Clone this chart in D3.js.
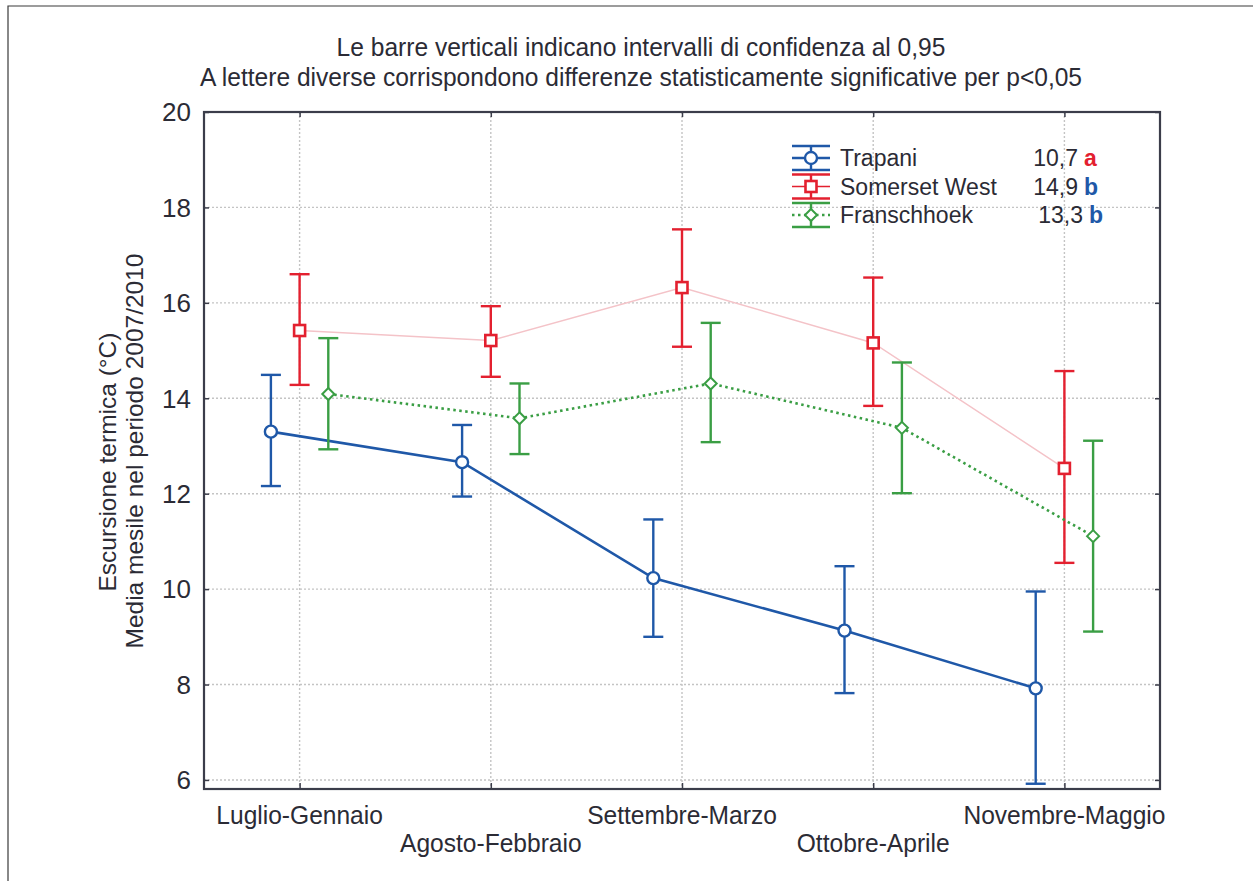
<!DOCTYPE html>
<html>
<head>
<meta charset="utf-8">
<script src="https://cdn.jsdelivr.net/npm/d3@7"></script>
<style>
  html, body { margin: 0; padding: 0; background: #fff; }
  svg { display: block; }
  text { font-family: "Liberation Sans", Arial, sans-serif; fill: #2b2b35; }
</style>
</head>
<body>
<svg id="chart" width="1253" height="881"></svg>
<script>
// Monthly thermal excursion, three sites, 95% confidence intervals
const categories = ["Luglio-Gennaio", "Agosto-Febbraio", "Settembre-Marzo", "Ottobre-Aprile", "Novembre-Maggio"];
const seriesNames = ["Trapani", "Somerset West", "Franschhoek"];

const trapaniMean = [13.30, 12.66, 10.23, 9.13, 7.92];
const trapaniLow  = [12.16, 11.94, 9.00, 7.82, 5.92];
const trapaniHigh = [14.49, 13.44, 11.46, 10.48, 9.95];

const somersetMean = [15.42, 15.21, 16.32, 15.16, 12.53];
const somersetLow  = [14.28, 14.45, 15.08, 13.84, 10.55];
const somersetHigh = [16.60, 15.93, 17.54, 16.53, 14.57];

const franschMean = [14.09, 13.58, 14.31, 13.38, 11.11];
const franschLow  = [12.93, 12.83, 13.08, 12.01, 9.11];
const franschHigh = [15.26, 14.31, 15.58, 14.75, 13.11];

const overallMeans = ["10,7", "14,9", "13,3"];
const groupLetters = ["a", "b", "b"];

const yTicks = [6, 8, 10, 12, 14, 16, 18, 20];

const titleLines = [
  "Le barre verticali indicano intervalli di confidenza al 0,95",
  "A lettere diverse corrispondono differenze statisticamente significative per p<0,05"
];
const yTitleLines = ["Escursione termica (°C)", "Media mesile nel periodo 2007/2010"];

// Styling per series
const styles = {
  "Trapani":       { color: "#1f58a8", line: "#1f58a8", lineWidth: 2.6, dash: null,  marker: "circle" },
  "Somerset West": { color: "#e3202f", line: "#f4c3c8", lineWidth: 1.5, dash: null,  marker: "square" },
  "Franschhoek":   { color: "#3a9e44", line: "#3a9e44", lineWidth: 2.6, dash: "2.5,3.5", marker: "diamond" }
};
const letterColors = { a: "#e3202f", b: "#1f58a8" };

const series = [
  { name: "Trapani", mean: trapaniMean, low: trapaniLow, high: trapaniHigh },
  { name: "Somerset West", mean: somersetMean, low: somersetLow, high: somersetHigh },
  { name: "Franschhoek", mean: franschMean, low: franschLow, high: franschHigh }
];

const svg = d3.select("#chart");

const plot = { left: 204, right: 1160, top: 112, bottom: 789 };
const condense = 0.945; // horizontal squeeze for the narrow title / category lettering

const x = d3.scalePoint().domain(categories).range([plot.left, plot.right]).padding(0.5);
const dx = d3.scalePoint().domain(seriesNames).range([-28.7, 28.7]);
const y = d3.scaleLinear().domain([5.81, 20]).range([plot.bottom, plot.top]);

// outer frame of the figure
svg.append("path")
  .attr("d", `M8,881 V6 H1253`)
  .attr("fill", "none").attr("stroke", "#3a3a3a").attr("stroke-width", 1.2);

// gridlines
const grid = svg.append("g").attr("stroke", "#c4c4c4").attr("stroke-width", 1.4).attr("stroke-dasharray", "2,2");
grid.selectAll("line.h").data(yTicks.filter(t => t < 20)).join("line")
  .attr("class", "h")
  .attr("x1", plot.left).attr("x2", plot.right)
  .attr("y1", d => y(d)).attr("y2", d => y(d));
grid.selectAll("line.v").data(categories).join("line")
  .attr("class", "v")
  .attr("x1", d => x(d)).attr("x2", d => x(d))
  .attr("y1", plot.top).attr("y2", plot.bottom);

// axes with inward ticks
const axisColor = "#3b3d4a";
const yAxisL = d3.axisLeft(y).tickValues(yTicks).tickSize(-5).tickFormat("");
const yAxisR = d3.axisRight(y).tickValues(yTicks).tickSize(-5).tickFormat("");
const xAxisB = d3.axisBottom(x).tickSize(-6).tickFormat("");
const xAxisT = d3.axisTop(x).tickSize(-5).tickFormat("");
[[yAxisL, `translate(${plot.left},0)`], [yAxisR, `translate(${plot.right},0)`],
 [xAxisB, `translate(0,${plot.bottom})`], [xAxisT, `translate(0,${plot.top})`]].forEach(([ax, tr]) => {
  const g = svg.append("g").attr("transform", tr).call(ax);
  g.select(".domain").remove();
  g.selectAll("line").attr("stroke", axisColor).attr("stroke-width", 1.5);
});
svg.append("rect")
  .attr("x", plot.left).attr("y", plot.top)
  .attr("width", plot.right - plot.left).attr("height", plot.bottom - plot.top)
  .attr("fill", "none").attr("stroke", axisColor).attr("stroke-width", 2.2);

// y tick labels
svg.append("g").selectAll("text").data(yTicks).join("text")
  .attr("x", 191).attr("y", d => y(d))
  .attr("dy", "0.36em")
  .attr("text-anchor", "end")
  .style("font-size", "26px")
  .text(d => d);

// category labels, staggered on two rows
svg.append("g").selectAll("text").data(categories).join("text")
  .attr("transform", (d, i) => `translate(${x(d)},${i % 2 === 0 ? 824 : 852}) scale(${condense},1)`)
  .attr("text-anchor", "middle")
  .style("font-size", "26px")
  .text(d => d);

// title
svg.append("g").selectAll("text").data(titleLines).join("text")
  .attr("transform", (d, i) => `translate(641,${56 + i * 30}) scale(${condense},1)`)
  .attr("text-anchor", "middle")
  .style("font-size", "26px")
  .text(d => d);

// y axis title
svg.append("g").selectAll("text").data(yTitleLines).join("text")
  .attr("transform", (d, i) => `translate(${116 + i * 27},${i === 0 ? 462 : 451}) rotate(-90)`)
  .attr("text-anchor", "middle")
  .style("font-size", "24.5px")
  .text(d => d);

// marker drawing helper
function drawMarker(g, type, color, size) {
  if (type === "circle") {
    g.append("circle").attr("r", size / 2).attr("fill", "#fff").attr("stroke", color).attr("stroke-width", 2.4);
  } else if (type === "square") {
    g.append("rect").attr("x", -size / 2).attr("y", -size / 2).attr("width", size).attr("height", size)
      .attr("fill", "#fff").attr("stroke", color).attr("stroke-width", 2.6);
  } else {
    const s = size / 2;
    g.append("path").attr("d", `M0,${-s} L${s},0 L0,${s} L${-s},0 Z`)
      .attr("fill", "#fff").attr("stroke", color).attr("stroke-width", 2);
  }
}
const markerSize = { circle: 12, square: 11, diamond: 12 };

// lines, error bars, markers
series.forEach(s => {
  const st = styles[s.name];
  const pts = categories.map((c, i) => ({ c, i, m: s.mean[i], lo: s.low[i], hi: s.high[i] }));
  const px = d => x(d.c) + dx(s.name);
  const g = svg.append("g");

  const line = d3.line().x(px).y(d => y(d.m));
  g.append("path").datum(pts).attr("d", line)
    .attr("fill", "none").attr("stroke", st.line).attr("stroke-width", st.lineWidth)
    .attr("stroke-dasharray", st.dash);

  const eb = g.append("g").attr("stroke", st.color).attr("stroke-width", 2.4).attr("fill", "none");
  eb.selectAll("line.stem").data(pts).join("line").attr("class", "stem")
    .attr("x1", px).attr("x2", px).attr("y1", d => y(d.lo)).attr("y2", d => y(d.hi));
  eb.selectAll("line.capH").data(pts).join("line").attr("class", "capH")
    .attr("x1", d => px(d) - 10).attr("x2", d => px(d) + 10).attr("y1", d => y(d.hi)).attr("y2", d => y(d.hi));
  eb.selectAll("line.capL").data(pts).join("line").attr("class", "capL")
    .attr("x1", d => px(d) - 10).attr("x2", d => px(d) + 10).attr("y1", d => y(d.lo)).attr("y2", d => y(d.lo));

  pts.forEach(d => {
    const mg = g.append("g").attr("transform", `translate(${px(d)},${y(d.m)})`);
    drawMarker(mg, st.marker, st.color, markerSize[st.marker]);
  });
});

// legend
const legend = svg.append("g");
seriesNames.forEach((name, i) => {
  const st = styles[name];
  const cy = 158 + i * 28.5;
  const lg = legend.append("g").attr("transform", `translate(811,${cy})`);
  lg.append("line").attr("x1", -19).attr("x2", 19).attr("y1", -12).attr("y2", -12)
    .attr("stroke", st.color).attr("stroke-width", 2.4);
  lg.append("line").attr("x1", -19).attr("x2", 19).attr("y1", 12).attr("y2", 12)
    .attr("stroke", st.color).attr("stroke-width", 2.4);
  lg.append("line").attr("x1", 0).attr("x2", 0).attr("y1", -12).attr("y2", 12)
    .attr("stroke", st.color).attr("stroke-width", 2.4);
  lg.append("line").attr("x1", -19).attr("x2", 19).attr("y1", 0).attr("y2", 0)
    .attr("stroke", name === "Somerset West" ? st.color : st.line)
    .attr("stroke-width", name === "Somerset West" ? 1.5 : 2.4)
    .attr("stroke-dasharray", st.dash);
  drawMarker(lg.append("g"), st.marker, st.color, markerSize[st.marker]);

  legend.append("text").attr("x", 840).attr("y", cy).attr("dy", "0.36em")
    .style("font-size", "23px").text(name);
  legend.append("text").attr("x", 1078 + (i === 2 ? 5 : 0)).attr("y", cy).attr("dy", "0.36em")
    .attr("text-anchor", "end").style("font-size", "23px").text(overallMeans[i]);
  legend.append("text").attr("x", 1084 + (i === 2 ? 5 : 0)).attr("y", cy).attr("dy", "0.36em")
    .style("font-size", "23px").style("font-weight", "bold")
    .style("fill", letterColors[groupLetters[i]]).text(groupLetters[i]);
});
</script>
</body>
</html>
